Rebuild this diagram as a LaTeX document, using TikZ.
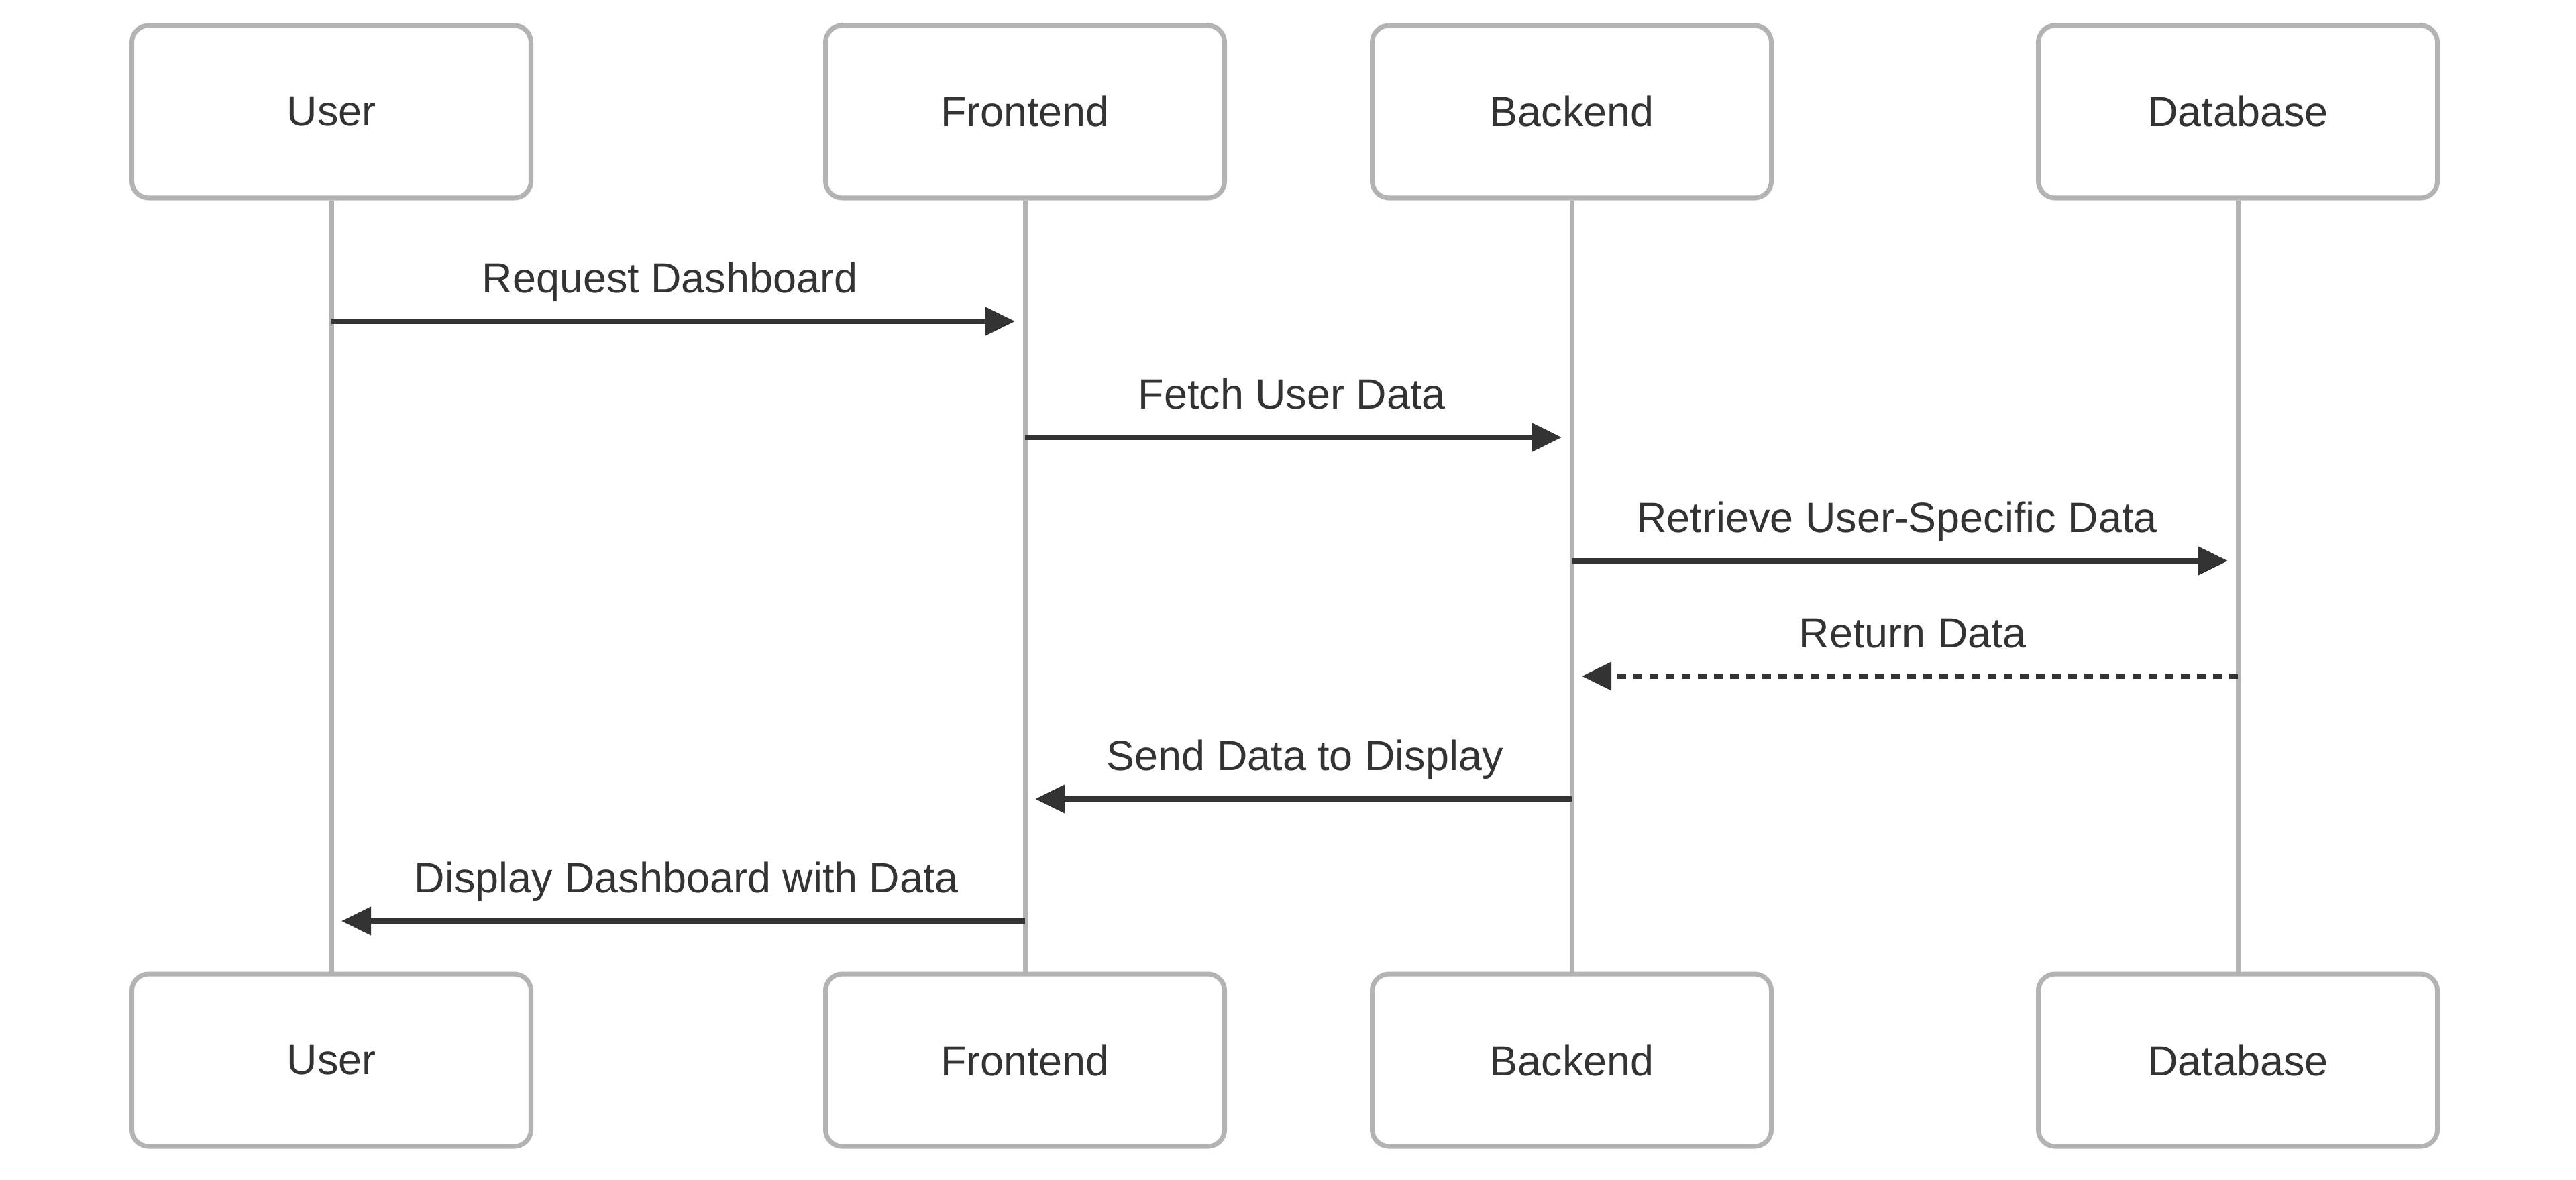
\documentclass[tikz,border=0pt]{standalone}
\usepackage{fontspec}
\setmainfont{Liberation Sans}
\usetikzlibrary{arrows.meta}

\definecolor{ink}{HTML}{333333}
\definecolor{rulegray}{HTML}{B3B3B3}

\begin{document}
\begin{tikzpicture}[
    actor/.style={draw=rulegray, line width=2pt, fill=white, rounded corners=0.25cm,
        minimum width=5.95cm, minimum height=2.57cm, text=ink,
        font=\fontsize{17.9pt}{21pt}\selectfont},
    lifeline/.style={draw=rulegray, line width=2pt},
    msg/.style={draw=ink, line width=2.1pt, shorten >=0.15cm,
        -{Triangle[length=0.44cm,width=0.41cm]}},
    reply/.style={msg, dash pattern=on 0.13cm off 0.11cm},
    msglabel/.style={anchor=base, yshift=0.43cm, text=ink, pos=0.488,
        font=\fontsize{17.9pt}{21pt}\selectfont}
]
    \useasboundingbox (0,0) rectangle (38.4,-17.58);

    % participants on top
    \node[actor] (usertop) at (4.94,-1.665) {User};
    \node[actor] (fronttop) at (15.28,-1.665) {Frontend};
    \node[actor] (backtop) at (23.43,-1.665) {Backend};
    \node[actor] (dbtop) at (33.36,-1.665) {Database};

    % participants at the bottom
    \node[actor] (userbot) at (4.94,-15.805) {User};
    \node[actor] (frontbot) at (15.28,-15.805) {Frontend};
    \node[actor] (backbot) at (23.43,-15.805) {Backend};
    \node[actor] (dbbot) at (33.36,-15.805) {Database};

    % lifelines
    \draw[lifeline] (usertop) -- (userbot);
    \draw[lifeline] (fronttop) -- (frontbot);
    \draw[lifeline] (backtop) -- (backbot);
    \draw[lifeline] (dbtop) -- (dbbot);

    % message rows
    \coordinate (row1) at (0,-4.79);
    \coordinate (row2) at (0,-6.52);
    \coordinate (row3) at (0,-8.36);
    \coordinate (row4) at (0,-10.08);
    \coordinate (row5) at (0,-11.91);
    \coordinate (row6) at (0,-13.73);

    \draw[msg] (usertop |- row1) -- (fronttop |- row1)
        node[msglabel] {Request Dashboard};
    \draw[msg] (fronttop |- row2) -- (backtop |- row2)
        node[msglabel] {Fetch User Data};
    \draw[msg] (backtop |- row3) -- (dbtop |- row3)
        node[msglabel] {Retrieve User-Specific Data};
    \draw[reply] (dbtop |- row4) -- (backtop |- row4)
        node[msglabel] {Return Data};
    \draw[msg] (backtop |- row5) -- (fronttop |- row5)
        node[msglabel] {Send Data to Display};
    \draw[msg] (fronttop |- row6) -- (usertop |- row6)
        node[msglabel] {Display Dashboard with Data};
\end{tikzpicture}
\end{document}
